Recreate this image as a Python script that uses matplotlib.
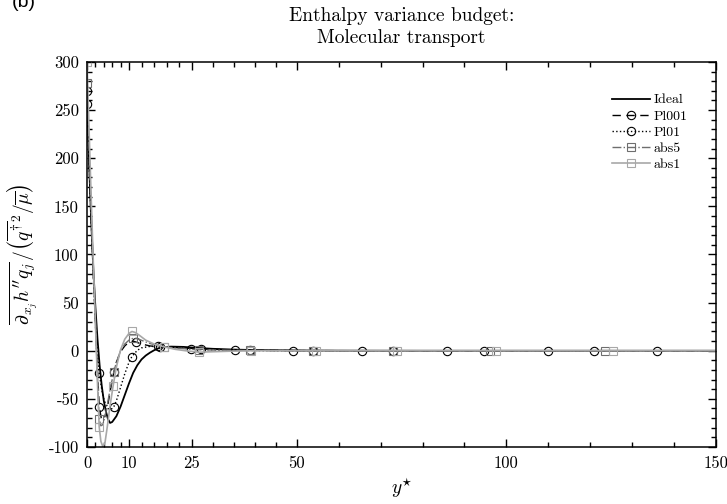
import numpy as np
import matplotlib
matplotlib.use('Agg')
import matplotlib.pyplot as plt

plt.rcParams['font.family'] = 'cmr10'
plt.rcParams['mathtext.fontset'] = 'cm'
plt.rcParams['axes.unicode_minus'] = False

# Ideal (no markers)
y_ideal = [0, 0.5, 1, 1.5, 2, 2.5, 3, 3.5, 4, 4.5, 5, 5.5, 6, 7, 8, 9, 10, 11, 12, 13,
           14, 15, 16, 17, 18, 20, 23, 26, 30, 35, 40, 50, 60, 80, 100, 150]
v_ideal = [260, 195, 135, 85, 45, 12, -15, -36, -52, -63, -71, -75, -74, -68, -58, -46, -34, -23, -15, -9,
           -5, -2, 0.5, 2.5, 3.5, 4.3, 4, 3, 2, 1.2, 0.7, 0.3, 0.1, 0, 0, 0]

# Pl001
y_pl001 = [0, 0.5, 1, 1.5, 2, 2.5, 2.9, 3.4, 3.8, 4.3, 5, 5.7, 6.4, 7, 8, 9, 10, 11, 11.7, 13,
           15, 17.5, 20, 23, 27.2, 32, 38.8, 45, 54, 73, 94.7, 121, 150]
v_pl001 = [270, 202, 138, 80, 28, -20, -58, -70, -72, -68, -55, -38, -22, -12, -1, 5, 9, 10, 9, 7,
           5, 4, 3.5, 2.8, 2, 1.2, 0.6, 0.3, 0.1, 0, 0, 0, 0]
m_pl001 = [0, 2.9, 6.4, 11.7, 17.5, 27.2, 38.8, 54, 73, 94.7, 121]

# Pl01
y_pl01 = [0, 0.5, 1, 1.5, 2, 2.5, 2.9, 3.5, 4, 4.5, 5, 5.5, 6, 6.4, 7, 8, 9, 10, 10.7, 12,
          13, 15, 17, 20, 24.8, 30, 35.3, 42, 49, 65.6, 85.9, 109.8, 136, 150]
v_pl01 = [256, 195, 135, 80, 32, -2, -23, -40, -50, -56, -60, -61, -60, -58, -52, -38, -24, -12, -6, 0.5,
          3, 4.5, 4.5, 3.8, 2, 1, 0.5, 0.2, 0.1, 0, 0, 0, 0, 0]
m_pl01 = [0, 2.9, 6.4, 10.7, 17, 24.8, 35.3, 49, 65.6, 85.9, 109.8, 136]

# abs5
y_abs5 = [0, 0.5, 1, 1.5, 2, 2.5, 2.9, 3.3, 3.7, 4.2, 4.8, 5.5, 6.4, 7, 8, 9, 10, 11, 12, 13.5,
          15, 18.4, 22, 26.7, 32, 38.9, 45, 54, 73, 96.2, 123.4, 150]
v_abs5 = [278, 210, 145, 85, 30, -28, -71, -78, -77, -70, -57, -40, -22, -12, 0, 7, 11, 13, 12.5, 10,
          7.5, 4, 2.5, 1, 0.6, 0.3, 0.1, 0, 0, 0, 0, 0]
m_abs5 = [0, 2.9, 6.4, 11, 18.4, 26.7, 38.9, 54, 73, 96.2, 123.4]

# abs1
y_abs1 = [0, 0.5, 1, 1.5, 2, 2.5, 2.9, 3.3, 3.8, 4.3, 4.8, 5.4, 6.2, 7, 8, 9, 10, 10.7, 11.5, 12.5,
          14, 16, 18.4, 21, 23.5, 26.7, 30, 34, 39.2, 45, 54.5, 74, 97.5, 125.5, 150]
v_abs1 = [300, 228, 158, 92, 30, -35, -79, -94, -100, -95, -80, -60, -37, -17, 1, 12, 18, 20, 19, 16,
          11, 7, 4, 1.5, 0, -1.5, -1, -0.5, 0, 0, 0, 0, 0, 0, 0]
m_abs1 = [0, 2.9, 6.2, 10.7, 18.4, 26.7, 39.2, 54.5, 74, 97.5, 125.5]

x_major = [0, 10, 25, 50, 100, 150]
y_major = [-100, -50, 0, 50, 100, 150, 200, 250, 300]


def marks(x, m):
    return list(np.where(np.isin(np.array(x), np.array(m)))[0])


fig = plt.figure(figsize=(7.27, 5.04), dpi=100)
ax = fig.add_axes([0.1197, 0.1131, 0.8653, 0.7639])

ax.plot(y_ideal, v_ideal, '-', color='k', lw=1.3, label='Ideal')
ax.plot(y_pl001, v_pl001, '--', color='k', lw=1.0, dashes=(6, 4), marker='o', ms=6,
        mfc='none', mec='k', mew=0.8, markevery=marks(y_pl001, m_pl001), label='Pl001')
ax.plot(y_pl01, v_pl01, ':', color='k', lw=1.0, marker='o', ms=6,
        mfc='none', mec='k', mew=0.8, markevery=marks(y_pl01, m_pl01), label='Pl01')
ax.plot(y_abs5, v_abs5, '-.', color='#6e6e6e', lw=1.0, marker='s', ms=5.5,
        mfc='none', mec='#6e6e6e', mew=0.8, markevery=marks(y_abs5, m_abs5), label='abs5')
ax.plot(y_abs1, v_abs1, '-', color='#a8a8a8', lw=1.2, marker='s', ms=5.5,
        mfc='none', mec='#a8a8a8', mew=0.8, markevery=marks(y_abs1, m_abs1), label='abs1')

ax.set_xlim(0, 150)
ax.set_ylim(-100, 300)
ax.set_xticks(x_major)
x_minor = np.concatenate([np.linspace(a, b, 6)[1:-1] for a, b in zip(x_major[:-1], x_major[1:])])
ax.set_xticks(x_minor, minor=True)
ax.set_yticks(y_major)
ax.set_yticks(np.arange(-100, 301, 10), minor=True)
ax.tick_params(which='both', direction='in', top=True, right=True, labelsize=12, width=1)
ax.tick_params(which='major', length=6, pad=6)
ax.tick_params(which='minor', length=3.5)
for s in ax.spines.values():
    s.set_linewidth(1.1)

ax.set_xlabel(r'$y^{\star}$', fontsize=14, labelpad=4)
ax.set_ylabel(r'$\overline{\partial_{x_j} h^{\prime\prime} q_j} \, / \left(\overline{q^{\dagger}}^{2} / \overline{\mu}\right)$',
              fontsize=14, labelpad=6)
ax.set_title('Enthalpy variance budget:\nMolecular transport', fontsize=14, pad=14, linespacing=1.25)

ax.legend(loc='upper right', bbox_to_anchor=(0.975, 0.95), frameon=False, fontsize=10,
          handlelength=2.8, handletextpad=0.25, labelspacing=0.25, numpoints=1)

# panel tag, partly above the top edge as in the original
fig.text(0.016, 0.995, '(b)', family='Liberation Sans', fontsize=14, va='center', ha='left')

plt.savefig('out.png', dpi=100)
